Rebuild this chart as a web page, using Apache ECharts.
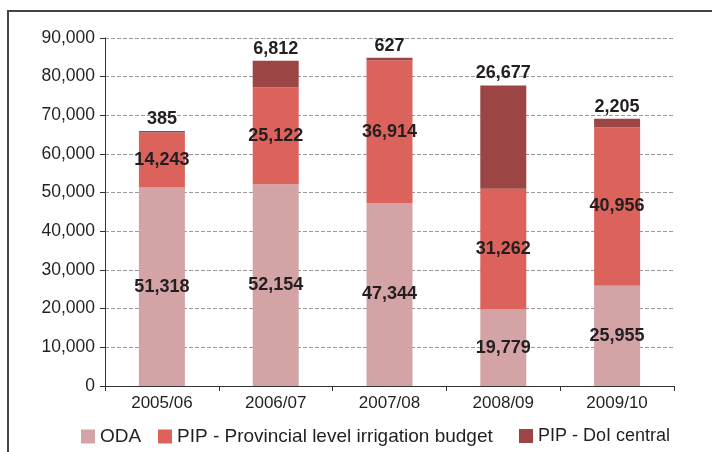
<!DOCTYPE html>
<html>
<head>
<meta charset="utf-8">
<script src="https://cdn.jsdelivr.net/npm/echarts@6/dist/echarts.min.js"></script>
<style>
  html, body { margin: 0; padding: 0; background: #fff; }
  #frame { position: absolute; left: 7px; top: 10px; width: 720px; height: 460px;
           border-left: 2px solid #444; border-top: 2px solid #444; }
  #chart { position: absolute; left: 0; top: 0; width: 712px; height: 452px; }
</style>
</head>
<body>
<div id="frame"></div>
<div id="chart"></div>
<script>
  // fiscal years
  var years = ['2005/06', '2006/07', '2007/08', '2008/09', '2009/10'];
  // stacked amounts
  var oda = [51318, 52154, 47344, 19779, 25955];
  var pipProvincial = [14243, 25122, 36914, 31262, 40956];
  var pipCentral = [385, 6812, 627, 26677, 2205];
  var seriesNames = ['ODA', 'PIP - Provincial level irrigation budget', 'PIP - DoI central'];

  var chart = echarts.init(document.getElementById('chart'));

  var fmt = function (p) { return p.value.toLocaleString('en-US'); };
  var labelStyle = {
    show: true,
    formatter: fmt,
    fontFamily: 'Liberation Sans, Arial, sans-serif',
    fontSize: 18,
    fontWeight: 'bold',
    color: '#231f20'
  };

  // one legend per entry so each sits where the original puts it
  var legendLeft = [81, 158, 519];
  var legendFont = [19, 19, 18];
  var legends = seriesNames.map(function (n, i) {
    return {
      left: legendLeft[i],
      top: 427,
      padding: 0,
      itemWidth: 14,
      itemHeight: 14,
      icon: 'rect',
      textStyle: { fontSize: legendFont[i], color: '#231f20' },
      data: [n]
    };
  });

  chart.setOption({
    animation: false,
    textStyle: { fontFamily: 'Liberation Sans, Arial, sans-serif' },
    grid: { left: 105, right: 38, top: 38, bottom: 66 },
    legend: legends,
    xAxis: {
      type: 'category',
      data: years,
      axisLine: { lineStyle: { color: '#333', width: 1 } },
      axisTick: { show: true, length: 5, lineStyle: { color: '#333' } },
      axisLabel: { fontSize: 17, color: '#231f20', margin: 9 }
    },
    yAxis: {
      type: 'value',
      min: 0,
      max: 90000,
      interval: 10000,
      axisLine: { show: true, lineStyle: { color: '#333', width: 1 } },
      axisTick: { show: true, length: 5, lineStyle: { color: '#333' } },
      axisLabel: {
        fontSize: 17.5, color: '#231f20', margin: 10,
        formatter: function (v) { return v.toLocaleString('en-US'); }
      },
      splitLine: { lineStyle: { color: '#999', type: 'dashed', width: 1 } }
    },
    series: [
      {
        name: seriesNames[0],
        type: 'bar',
        stack: 'total',
        barWidth: 46,
        data: oda,
        itemStyle: { color: '#d4a3a6' },
        label: Object.assign({ position: 'inside' }, labelStyle)
      },
      {
        name: seriesNames[1],
        type: 'bar',
        stack: 'total',
        data: pipProvincial,
        itemStyle: { color: '#dc635c' },
        label: Object.assign({ position: 'inside' }, labelStyle)
      },
      {
        name: seriesNames[2],
        type: 'bar',
        stack: 'total',
        data: pipCentral,
        itemStyle: { color: '#9b4545' },
        label: Object.assign({ position: 'top', distance: 3 }, labelStyle)
      }
    ]
  });
</script>
</body>
</html>
